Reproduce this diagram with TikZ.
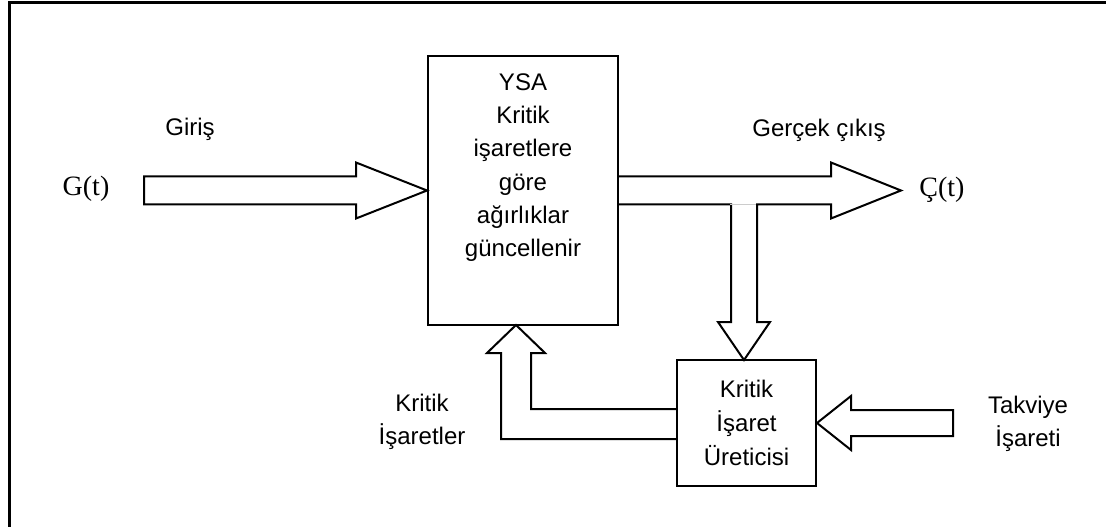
\documentclass[tikz,border=0pt]{standalone}
\usepackage{fontspec}
\setmainfont{Liberation Sans}
\newfontfamily\serifyazi{Liberation Serif}
\usetikzlibrary{calc}

\begin{document}
\begin{tikzpicture}[x=0.75pt,y=-0.75pt,
  kutu/.style={draw,line width=1.5pt,align=center,inner sep=0pt,font=\fontsize{18pt}{25.5pt}\selectfont},
  okblok/.style={draw,line width=1.5pt,line join=miter},
  etiket/.style={inner sep=0pt,align=center,font=\fontsize{18pt}{25pt}\selectfont},
  sinyal/.style={inner sep=0pt,font=\serifyazi\fontsize{21pt}{25pt}\selectfont}]
\useasboundingbox (0,0) rectangle (1106,527);
\draw[line width=2.25pt] (9,527) -- (9,3) -- (1106,3);

\node[kutu,minimum width=142.5pt,minimum height=201.75pt] (ysa) at (523,190.5) {};
\node[etiket,anchor=north] (ysayazi) at (523,73) {YSA\\Kritik\\işaretlere\\göre\\ağırlıklar\\güncellenir};
\node[kutu,minimum width=104.25pt,minimum height=94.5pt] (ureten) at (746.5,423) {Kritik\\İşaret\\Üreticisi};

\node[sinyal,anchor=base] (gt) at (86,196) {G(t)};
\node[sinyal,anchor=base] (ct) at (942,197) {Ç(t)};
\node[etiket,anchor=base] (giris) at (190,136) {Giriş};
\node[etiket,anchor=base] (cikis) at (819,137) {Gerçek çıkış};
\node[etiket] (kritik) at (422,422) {Kritik\\İşaretler};
\node[etiket] (takviye) at (1028,424) {Takviye\\İşareti};

% giris oku
\draw[okblok] (ysa.west) -- ++(-71,-28) -- ++(0,14) -- ++(-212,0) -- ++(0,28)
  -- ++(212,0) -- ++(0,14) -- cycle;
% cikis oku ve asagi kol
\draw[okblok] ($(ysa.east)+(0,-14)$) -- ++(212,0) -- ++(0,-14) -- ++(70,28) -- ++(-70,28)
  -- ++(0,-14) -- ++(-74,0) -- ++(0,117.5) -- ++(13,0) -- ++(-26,38) -- ++(-26,-38)
  -- ++(13,0) -- ++(0,-117.5) -- ($(ysa.east)+(0,14)$);
\draw[gray!40,line width=0.8pt] (730,204.5) -- (756,204.5);
% kritik isaretler (geri besleme)
\draw[okblok] ($(ureten.west)+(0,-14)$) -- ++(-145,0) -- ++(0,-56) -- ++(14,0) -- ++(-29,-28)
  -- ++(-29,28) -- ++(14,0) -- ++(0,86) -- ++(175,0);
% takviye oku
\draw[okblok] (ureten.east) -- ++(34,-27) -- ++(0,14) -- ++(102,0) -- ++(0,26)
  -- ++(-102,0) -- ++(0,14) -- cycle;
\end{tikzpicture}
\end{document}
